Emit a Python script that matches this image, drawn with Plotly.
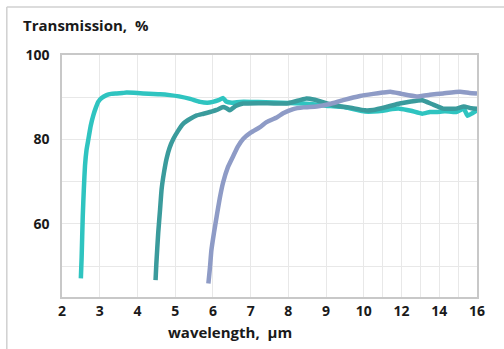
import plotly.graph_objects as go

# wavelength (µm) and transmission (%) for the three samples
x1 = [2.50, 2.52, 2.55, 2.58, 2.61, 2.65, 2.70, 2.76, 2.83, 2.90, 2.96, 3.05, 3.18, 3.30, 3.45, 3.60, 3.71, 4.00, 4.30, 4.60, 4.86,
      5.10, 5.40, 5.66, 5.85, 6.00, 6.15, 6.27, 6.35, 6.50, 6.72, 7.00, 7.40, 7.80, 8.20, 8.57, 9.00, 9.50, 10.07, 10.50,
      11.00, 11.50, 11.90, 12.50, 13.10, 13.50, 13.85, 14.30, 14.90, 15.30, 15.50, 15.75, 16.00]
y1 = [47.1, 52.0, 61.8, 68.5, 73.8, 77.5, 80.1, 83.2, 85.7, 87.6, 88.9, 89.8, 90.5, 90.8, 90.9, 91.0, 91.1, 91.0, 90.8, 90.7, 90.5,
      90.2, 89.6, 88.9, 88.7, 88.9, 89.3, 89.8, 89.0, 88.7, 88.9, 88.9, 88.8, 88.7, 88.6, 88.4, 88.0, 87.6, 86.6, 86.6,
      86.8, 87.2, 87.3, 86.8, 86.1, 86.5, 86.5, 86.7, 86.5, 87.3, 85.6, 86.2, 86.9]

x2 = [4.48, 4.50, 4.55, 4.60, 4.64, 4.70, 4.77, 4.85, 4.95, 5.08, 5.21, 5.40, 5.57, 5.75, 5.92, 6.10, 6.27, 6.36, 6.45, 6.60, 6.80,
      7.20, 7.69, 8.00, 8.30, 8.48, 8.70, 9.19, 9.60, 10.07, 10.50, 11.20, 11.90, 12.50, 13.10, 13.60, 14.20, 14.90, 15.30,
      15.70, 16.00]
y2 = [46.7, 50.5, 57.8, 63.5, 68.2, 72.0, 75.4, 78.0, 80.1, 82.1, 83.7, 84.9, 85.7, 86.1, 86.5, 87.0, 87.7, 87.4, 86.9, 87.9, 88.5,
      88.6, 88.5, 88.6, 89.3, 89.7, 89.4, 88.1, 87.6, 86.9, 87.0, 87.7, 88.5, 89.0, 89.3, 88.4, 87.3, 87.3, 87.8, 87.4, 87.3]

x3 = [5.88, 5.92, 5.96, 6.03, 6.10, 6.18, 6.27, 6.40, 6.54, 6.66, 6.80, 7.00, 7.25, 7.42, 7.69, 7.86, 8.13, 8.40, 8.75, 9.10,
      9.45, 9.90, 10.50, 11.00, 11.40, 12.00, 12.80, 13.50, 14.20, 15.10, 15.60, 16.00]
y3 = [45.9, 49.5, 53.8, 58.0, 61.8, 66.0, 69.8, 73.5, 76.1, 78.3, 80.1, 81.6, 82.9, 84.1, 85.2, 86.2, 87.2, 87.6, 87.8, 88.4,
      89.3, 90.3, 90.8, 91.1, 91.3, 90.8, 90.2, 90.6, 90.9, 91.3, 91.0, 90.9]

tick_um = [2, 3, 4, 5, 6, 7, 8, 9, 10, 11, 12, 13, 14, 15, 16]
tick_text = ["2", "3", "4", "5", "6", "7", "8", "9", "10", "", "12", "", "14", "", "16"]
y_ticks = [50, 60, 70, 80, 90, 100]
y_text = ["", "60", "", "80", "", "100"]

colors = ["#2fc4c0", "#3a9b9c", "#8e9bc6"]


def axis_pos(x):
    # the axis is compressed by 2 beyond 10 µm
    return x if x <= 10 else 10 + (x - 10) / 2


fig = go.Figure()
for xs, ys, c in [(x1, y1, colors[0]), (x2, y2, colors[1]), (x3, y3, colors[2])]:
    fig.add_trace(go.Scatter(x=[axis_pos(v) for v in xs], y=ys, mode="lines",
                             line=dict(color=c, width=4.5, shape="spline", smoothing=0.4),
                             showlegend=False, hoverinfo="skip"))

tick_font = dict(family="Open Sans, Arial, sans-serif", size=14, color="#1a1a1a", weight="bold")

fig.update_layout(
    width=504, height=349,
    margin=dict(l=62, r=27, t=55, b=52),
    paper_bgcolor="white", plot_bgcolor="white",
    xaxis=dict(range=[2, 13], tickvals=[axis_pos(v) for v in tick_um], ticktext=tick_text,
               showgrid=True, gridcolor="#e8e8e8", gridwidth=1, zeroline=False,
               showline=True, linecolor="#c8c8c8", linewidth=1.5, mirror=True,
               ticks="", tickfont=tick_font),
    yaxis=dict(range=[42.7, 100], tickvals=y_ticks, ticktext=y_text,
               showgrid=True, gridcolor="#e8e8e8", gridwidth=1, zeroline=False,
               showline=True, linecolor="#c8c8c8", linewidth=1.5, mirror=True,
               ticks="", ticklabelstandoff=8, tickfont=tick_font),
    annotations=[
        dict(text="<b>Transmission,  %</b>", xref="paper", yref="paper", x=-0.098, y=1.075,
             xanchor="left", yanchor="bottom", showarrow=False,
             font=dict(family="Open Sans, Arial, sans-serif", size=15, color="#1a1a1a")),
        dict(text="<b>wavelength,  µm</b>", xref="paper", yref="paper", x=0.405, y=-0.095,
             xanchor="center", yanchor="top", showarrow=False,
             font=dict(family="Open Sans, Arial, sans-serif", size=15, color="#1a1a1a")),
    ],
    shapes=[
        dict(type="line", xref="paper", yref="paper", x0=-0.133, x1=1.07, y0=1.198, y1=1.198,
             line=dict(color="#d0d0d0", width=1.5)),
        dict(type="line", xref="paper", yref="paper", x0=-0.133, x1=-0.133, y0=1.198, y1=-0.22,
             line=dict(color="#d0d0d0", width=1.5)),
    ],
)

fig.write_html("out.html", config={"displayModeBar": False},
               post_script="document.body.style.margin='0';")
